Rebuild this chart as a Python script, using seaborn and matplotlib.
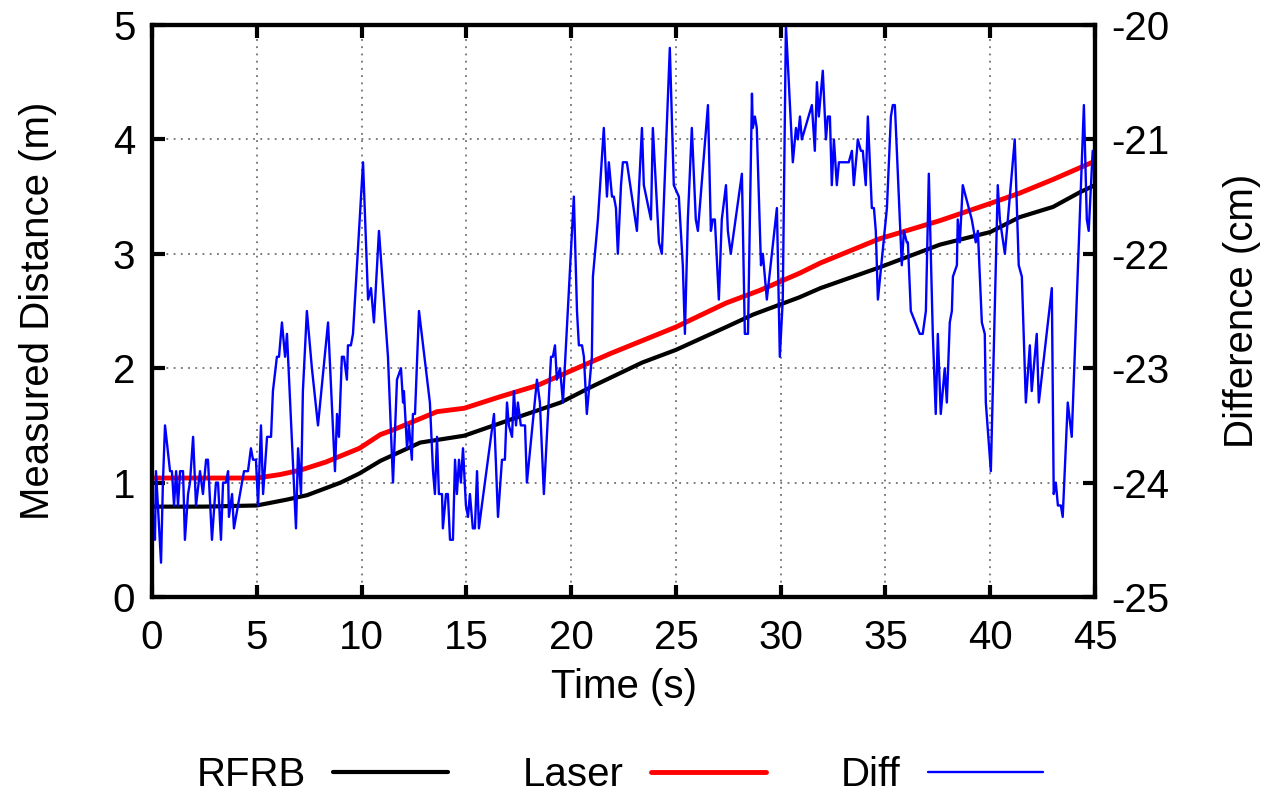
import numpy as np
import pandas as pd
import matplotlib
matplotlib.use("Agg")
import matplotlib.pyplot as plt
import seaborn as sns

# RFRB and Laser distance (m)
dist_t = [0, 2.5, 5.0, 6.4, 7.4, 9.0, 9.9, 10.9, 12.8, 14.9, 17.1, 19.5, 21.0,
          23.4, 25.0, 27.4, 28.7, 30.9, 31.9, 34.7, 37.6, 40.0, 41.4, 43.0, 44.3, 45.0]
rfrb = [0.79, 0.79, 0.80, 0.85, 0.89, 1.00, 1.08, 1.19, 1.35, 1.41, 1.55, 1.70, 1.84,
        2.05, 2.16, 2.36, 2.47, 2.62, 2.70, 2.88, 3.08, 3.19, 3.32, 3.41, 3.54, 3.60]

laser_t = [0, 2.5, 5.0, 6.1, 7.1, 8.3, 9.9, 10.9, 11.5, 13.6, 14.9, 16.6, 18.4, 19.9,
           21.4, 21.9, 25.0, 27.4, 29.0, 30.9, 31.9, 34.7, 37.6, 40.0, 41.4, 43.0, 45.0]
laser = [1.04, 1.04, 1.04, 1.07, 1.11, 1.18, 1.30, 1.42, 1.46, 1.62, 1.65, 1.75, 1.85, 1.97,
         2.09, 2.13, 2.36, 2.57, 2.68, 2.83, 2.92, 3.13, 3.29, 3.44, 3.53, 3.65, 3.81]

# Diff (cm) as (time, value) pairs
diff_pts = [
    (0.10, -24.3), (0.14, -24.5), (0.19, -23.9), (0.43, -24.7), (0.52, -24.0), (0.62, -23.5),
    (0.86, -23.9), (0.95, -23.9), (1.05, -24.2), (1.15, -23.9), (1.24, -24.2), (1.34, -23.9),
    (1.48, -23.9), (1.57, -24.5), (1.72, -24.1), (1.81, -24.0), (1.96, -23.6), (2.10, -24.2),
    (2.29, -23.9), (2.43, -24.1), (2.58, -23.8), (2.67, -23.8), (2.86, -24.5), (3.05, -24.0),
    (3.15, -24.0), (3.29, -24.5), (3.39, -24.0), (3.53, -24.0), (3.63, -23.9), (3.67, -24.3),
    (3.82, -24.1), (3.91, -24.4), (4.39, -23.9), (4.58, -23.9), (4.72, -23.7), (4.82, -23.8),
    (4.96, -23.8), (5.06, -24.2), (5.20, -23.5), (5.30, -24.1), (5.49, -23.6), (5.68, -23.6),
    (5.77, -23.2), (5.96, -22.9), (6.06, -22.9), (6.20, -22.6), (6.35, -22.9), (6.44, -22.7),
    (6.87, -24.4), (6.97, -23.7), (7.11, -24.1), (7.20, -23.2), (7.39, -22.5), (7.63, -23.0),
    (7.92, -23.5), (8.40, -22.6), (8.73, -23.9), (8.83, -23.4), (8.92, -23.6), (9.06, -22.9),
    (9.16, -22.9), (9.30, -23.1), (9.35, -22.8), (9.49, -22.8), (9.59, -22.7), (10.07, -21.2),
    (10.31, -22.4), (10.45, -22.3), (10.59, -22.6), (10.83, -21.8), (11.26, -22.9), (11.50, -24.0),
    (11.69, -23.1), (11.88, -23.0), (11.98, -23.3), (12.02, -23.2), (12.17, -23.7), (12.26, -23.5),
    (12.40, -23.8), (12.45, -23.4), (12.55, -23.4), (12.74, -22.5), (13.26, -23.3), (13.41, -23.9),
    (13.50, -24.1), (13.60, -23.6), (13.69, -24.1), (13.84, -24.1), (13.88, -24.4), (14.03, -24.1),
    (14.12, -24.1), (14.22, -24.5), (14.36, -24.5), (14.46, -23.8), (14.55, -24.1), (14.65, -23.8),
    (14.74, -24.0), (14.84, -23.7), (14.98, -24.2), (15.08, -24.3), (15.17, -24.1), (15.31, -24.4),
    (15.41, -24.4), (15.51, -23.9), (15.60, -24.4), (15.74, -24.2), (16.32, -23.4), (16.51, -24.3),
    (16.70, -23.8), (16.84, -23.8), (16.94, -23.3), (17.03, -23.5), (17.18, -23.6), (17.27, -23.2),
    (17.37, -23.5), (17.46, -23.3), (17.60, -23.5), (17.80, -23.5), (17.89, -24.0), (18.37, -23.1),
    (18.51, -23.3), (18.70, -24.1), (19.04, -22.9), (19.13, -22.9), (19.23, -22.8), (19.32, -23.1),
    (19.47, -23.0), (19.61, -23.3), (20.13, -21.5), (20.28, -22.5), (20.37, -22.8), (20.52, -22.8),
    (20.61, -22.9), (20.75, -23.4), (20.99, -22.9), (21.04, -22.2), (21.28, -21.7), (21.56, -20.9),
    (21.71, -21.5), (21.80, -21.2), (21.95, -21.5), (22.04, -21.5), (22.14, -21.6), (22.23, -22.0),
    (22.38, -21.4), (22.47, -21.2), (22.66, -21.2), (23.14, -21.8), (23.38, -20.9), (23.47, -21.4),
    (23.81, -21.7), (23.90, -20.9), (24.19, -21.9), (24.33, -22.0), (24.71, -20.2), (24.90, -21.4),
    (25.14, -21.5), (25.33, -22.1), (25.43, -22.7), (25.57, -21.7), (25.76, -20.9), (25.95, -21.7),
    (26.05, -21.8), (26.53, -20.7), (26.67, -21.8), (26.76, -21.7), (26.86, -21.7), (27.05, -22.4),
    (27.19, -21.7), (27.39, -21.4), (27.48, -21.8), (27.62, -22.0), (28.15, -21.3), (28.29, -22.7),
    (28.44, -22.7), (28.63, -20.6), (28.67, -20.9), (28.77, -20.8), (28.86, -20.9), (29.06, -22.1),
    (29.15, -22.0), (29.34, -22.4), (29.82, -21.6), (29.96, -22.9), (30.10, -22.4), (30.25, -20.0),
    (30.58, -21.2), (30.73, -20.9), (30.82, -21.0), (30.92, -20.8), (31.01, -21.0), (31.49, -20.7),
    (31.63, -21.1), (31.73, -20.5), (31.82, -20.8), (32.01, -20.4), (32.16, -21.0), (32.25, -20.8),
    (32.35, -20.8), (32.44, -21.4), (32.54, -21.0), (32.68, -21.4), (32.78, -21.2), (33.25, -21.2),
    (33.40, -21.1), (33.49, -21.4), (33.64, -21.1), (33.68, -21.0), (33.83, -21.1), (33.92, -21.1),
    (34.06, -21.4), (34.16, -20.8), (34.35, -21.6), (34.45, -21.6), (34.54, -21.8), (34.64, -22.4),
    (35.07, -21.6), (35.26, -20.8), (35.35, -20.7), (35.45, -20.7), (35.78, -22.1), (35.88, -21.8),
    (36.02, -21.9), (36.07, -21.9), (36.21, -22.5), (36.64, -22.7), (36.78, -22.7), (36.93, -22.5),
    (37.07, -21.3), (37.26, -22.7), (37.40, -23.4), (37.50, -22.7), (37.64, -23.4), (37.83, -23.0),
    (37.93, -23.3), (38.07, -22.6), (38.17, -22.5), (38.22, -22.2), (38.41, -22.1), (38.45, -21.7),
    (38.55, -21.9), (38.69, -21.4), (39.12, -21.7), (39.31, -21.9), (39.41, -21.8), (39.60, -22.6),
    (39.74, -22.7), (39.79, -23.3), (40.03, -23.9), (40.36, -21.4), (40.46, -21.7), (40.70, -22.0),
    (41.17, -21.0), (41.36, -22.1), (41.51, -22.2), (41.70, -23.3), (41.89, -22.8), (41.98, -23.2),
    (42.22, -22.7), (42.32, -23.3), (42.94, -22.3), (43.03, -24.1), (43.13, -24.0), (43.23, -24.2),
    (43.37, -24.2), (43.46, -24.3), (43.70, -23.3), (43.89, -23.6), (44.47, -20.7), (44.61, -21.7),
    (44.70, -21.8), (44.89, -21.1),
]
diff_df = pd.DataFrame(diff_pts, columns=["t", "diff"])

sns.set_style("ticks")
plt.rcParams["font.family"] = ["Liberation Sans", "DejaVu Sans"]
plt.rcParams["axes.unicode_minus"] = False
plt.rcParams["text.color"] = "black"
plt.rcParams["axes.labelcolor"] = "black"
plt.rcParams["xtick.color"] = "black"
plt.rcParams["ytick.color"] = "black"

fs = 29

fig = plt.figure(figsize=(12.7, 7.96), dpi=100)
ax = fig.add_axes([0.1197, 0.25, 0.7425, 0.7186])
ax2 = ax.twinx()

sns.lineplot(x=dist_t, y=rfrb, ax=ax, color="black", lw=3.0, legend=False)
sns.lineplot(x=laser_t, y=laser, ax=ax, color="#ff0000", lw=3.5, legend=False)
sns.lineplot(data=diff_df, x="t", y="diff", ax=ax2, color="#0000ff", lw=1.7,
             legend=False, sort=False)

ax.set_xlim(0, 45)
ax.set_ylim(0, 5)
ax2.set_ylim(-25, -20)
ax.set_xticks(range(0, 46, 5))
ax.set_yticks(range(0, 6))
ax2.set_yticks(range(-25, -19))

ax.grid(True, color="#707070", linestyle=(0, (1, 3)), lw=1.3)
for a in (ax, ax2):
    for s in a.spines.values():
        s.set_linewidth(3)
        s.set_color("black")

ax.tick_params(axis="both", direction="in", length=9, width=3, labelsize=fs,
               top=True, right=False, pad=12)
ax.tick_params(axis="x", pad=16)
ax2.tick_params(axis="y", direction="in", length=9, width=3, labelsize=fs, pad=12)

ax.set_xlabel("Time (s)", fontsize=fs, labelpad=8)
ax.set_ylabel("Measured Distance (m)", fontsize=fs, labelpad=40)
ax2.set_ylabel("Difference (cm)", fontsize=fs, labelpad=38)

handles = ax.get_lines()[:2] + ax2.get_lines()[:1]
fig.legend(handles, ["RFRB", "Laser", "Diff"], loc="center", bbox_to_anchor=(0.488, 0.026),
           ncol=3, frameon=False, fontsize=fs, markerfirst=False, handlelength=2.85,
           handletextpad=0.67, columnspacing=1.87, borderpad=0.2)

fig.savefig("out.png", dpi=100)
